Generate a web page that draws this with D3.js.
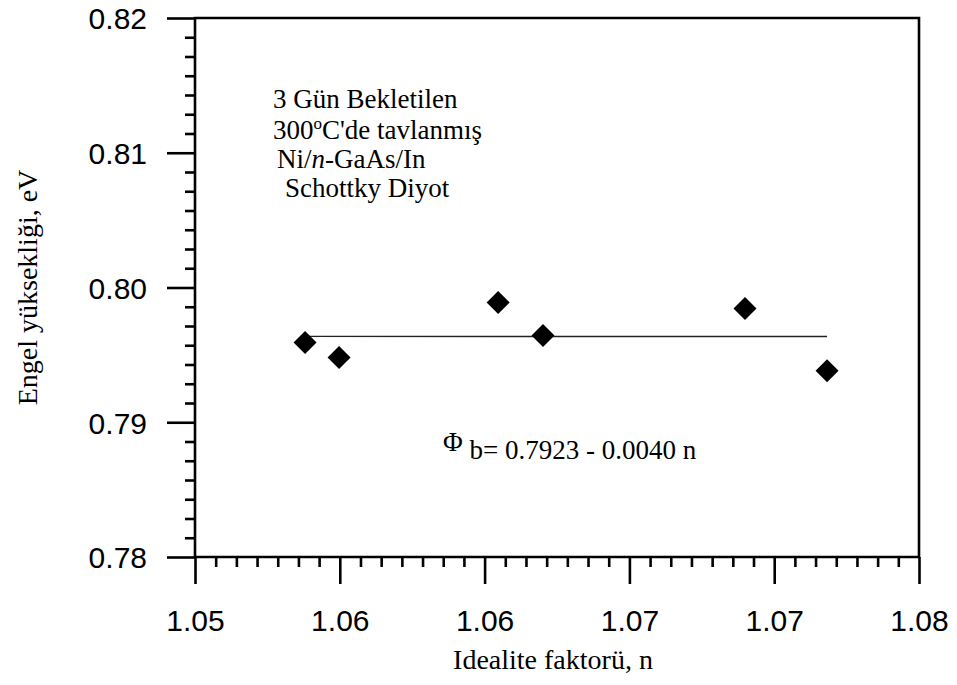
<!DOCTYPE html>
<html>
<head>
<meta charset="utf-8">
<script src="https://cdn.jsdelivr.net/npm/d3@7"></script>
<style>
  body { margin: 0; background: #fff; }
  svg { display: block; }
</style>
</head>
<body>
<svg width="957" height="685"></svg>
<script>
// measured points (ideality factor vs barrier height)
const nVals   = [1.05456, 1.05597, 1.06256, 1.06442, 1.07279, 1.07619]
const phiVals = [0.79591, 0.79480, 0.79888, 0.79643, 0.79844, 0.79383]

// fit line end points
const fitX = [1.05456, 1.07619]
const fitY = [0.79637, 0.79636]

const xTicks = [1.050, 1.056, 1.062, 1.068, 1.074, 1.080]
const xTickLabels = ["1.05", "1.06", "1.06", "1.07", "1.07", "1.08"]
const yTicks = [0.78, 0.79, 0.80, 0.81, 0.82]
const yTickLabels = ["0.78", "0.79", "0.80", "0.81", "0.82"]

const noteLines = ["3 Gün Bekletilen", "300", "Ni/", "Schottky Diyot"]

const svg = d3.select("svg")
const L = 195, R = 919, T = 18, B = 557

const x = d3.scaleLinear().domain([1.05, 1.08]).range([L, R])
const y = d3.scaleLinear().domain([0.78, 0.82]).range([B, T])

// minor ticks: 7 per major interval
let xMinor = [], yMinor = []
for (let i = 0; i < xTicks.length - 1; i++) {
    for (let k = 1; k < 7; k++) xMinor.push(xTicks[i] + (xTicks[i+1] - xTicks[i]) * k / 7)
}
for (let i = 0; i < yTicks.length - 1; i++) {
    for (let k = 1; k < 7; k++) yMinor.push(yTicks[i] + (yTicks[i+1] - yTicks[i]) * k / 7)
}

const frame = svg.append("g").attr("stroke", "#000").attr("stroke-width", 2.6).attr("fill", "none")
frame.append("path").attr("d", `M${L},${T}H${R}V${B}H${L}Z`)

const xAxis = svg.append("g").attr("transform", `translate(0,${B})`)
    .call(d3.axisBottom(x).tickValues(xTicks).tickSize(27).tickFormat((d, i) => xTickLabels[i]))
const xMinorAxis = svg.append("g").attr("transform", `translate(0,${B})`)
    .call(d3.axisBottom(x).tickValues(xMinor).tickSize(10).tickFormat(""))

const yAxis = svg.append("g").attr("transform", `translate(${L},0)`)
    .call(d3.axisLeft(y).tickValues(yTicks).tickSize(28).tickFormat((d, i) => yTickLabels[i]))
const yMinorAxis = svg.append("g").attr("transform", `translate(${L},0)`)
    .call(d3.axisLeft(y).tickValues(yMinor).tickSize(10).tickFormat(""))

;[xAxis, xMinorAxis, yAxis, yMinorAxis].forEach(g => {
    g.select(".domain").remove()
    g.selectAll(".tick line").attr("stroke", "#000").attr("stroke-width", 2.6)
    g.selectAll("text").attr("fill", "#000")
        .style("font-family", "'Liberation Sans', Arial, sans-serif").style("font-size", "30px")
})
xAxis.selectAll("text").attr("dy", null).attr("y", 74)
yAxis.selectAll("text").attr("dy", "0.36em").attr("x", -48)

// fit line
svg.append("path")
    .datum(fitX.map((d, i) => [d, fitY[i]]))
    .attr("d", d3.line().x(d => x(d[0])).y(d => y(d[1])))
    .attr("stroke", "#222").attr("stroke-width", 1.4).attr("fill", "none")

// diamonds
svg.selectAll(".pt").data(nVals).enter().append("path")
    .attr("class", "pt")
    .attr("transform", (d, i) => `translate(${x(d)},${y(phiVals[i])})`)
    .attr("d", "M0,-11.5L11.5,0L0,11.5L-11.5,0Z")
    .attr("fill", "#000")

const serif = "'Liberation Serif', 'Times New Roman', serif"

// annotation
const note = svg.append("text").style("font-family", serif).style("font-size", "27px").attr("fill", "#000")
note.append("tspan").attr("x", 273).attr("y", 108).text(noteLines[0])
note.append("tspan").attr("x", 273).attr("y", 139).text(noteLines[1])
note.append("tspan").attr("dy", -10).style("font-size", "17px").text("o")
note.append("tspan").attr("dy", 10).text("C'de tavlanmış")
note.append("tspan").attr("x", 277).attr("y", 168).text(noteLines[2])
note.append("tspan").style("font-style", "italic").text("n")
note.append("tspan").text("-GaAs/In")
note.append("tspan").attr("x", 285).attr("y", 197).text(noteLines[3])

// equation
const eq = svg.append("text").style("font-family", serif).style("font-size", "27px").attr("fill", "#000")
eq.append("tspan").attr("x", 443).attr("y", 451).text("Φ")
eq.append("tspan").attr("dy", 8).text(" b= 0.7923 - 0.0040 n")

// axis titles
svg.append("text").attr("x", 553).attr("y", 669).attr("text-anchor", "middle")
    .style("font-family", serif).style("font-size", "28px").text("Idealite faktorü, n")
svg.append("text").attr("transform", `translate(37,${(T + B) / 2}) rotate(-90)`).attr("text-anchor", "middle")
    .style("font-family", serif).style("font-size", "28px").text("Engel yüksekliği, eV")
</script>
</body>
</html>
